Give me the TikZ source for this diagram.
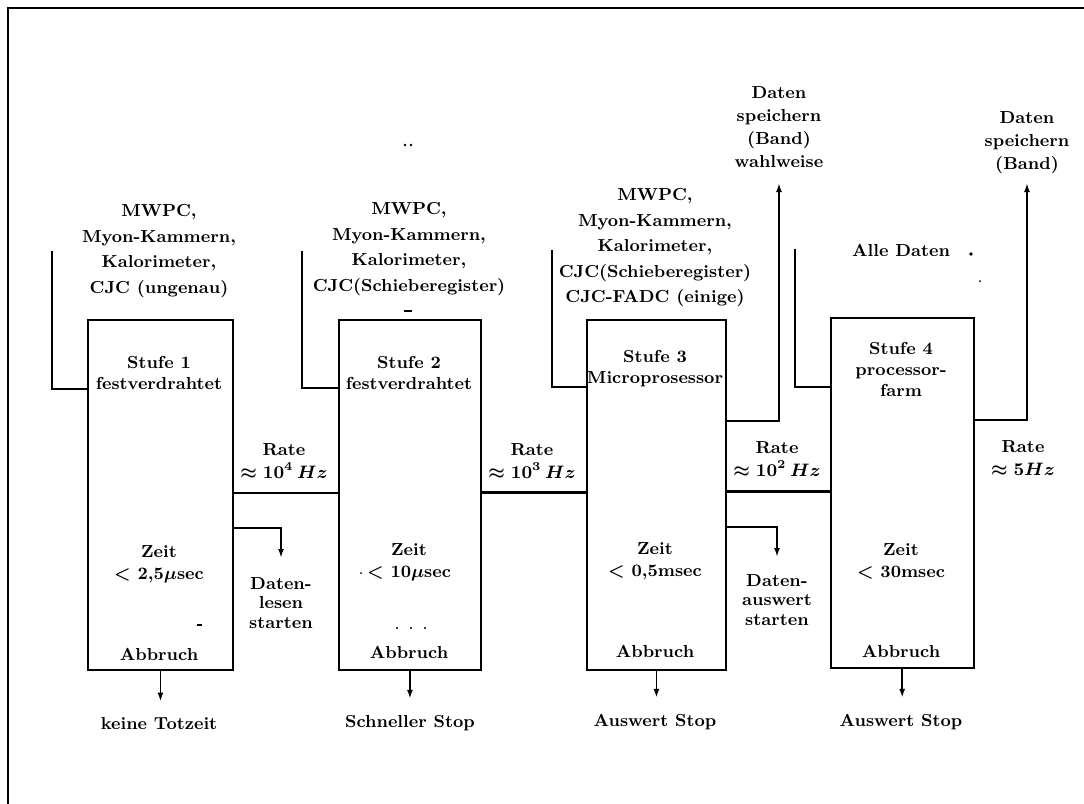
\documentclass[tikz,border=0pt]{standalone}
\usepackage{fontspec}
\usetikzlibrary{arrows.meta,calc}
\begin{document}
\begin{tikzpicture}[x=0.5pt,y=-0.5pt,
  frameline/.style={line width=1.1pt},
  stagebox/.style={draw, line width=1.2pt, anchor=north west, inner sep=0pt, minimum height=175pt},
  feed/.style={line width=1pt},
  conn/.style={line width=1.3pt},
  arr/.style={line width=0.9pt, -{Latex[length=4.5pt,width=3pt]}},
  outarr/.style={line width=1.3pt, -{Latex[length=4.5pt,width=3pt]}},
  txt/.style={align=center, inner sep=0pt, font=\fontsize{8.7}{11}\selectfont\bfseries\boldmath},
  toplbl/.style={txt, font=\fontsize{8.7}{12.75}\selectfont\bfseries\boldmath},
  steplbl/.style={txt, font=\fontsize{8.7}{10.5}\selectfont\bfseries\boldmath},
  ratelbl/.style={txt, font=\fontsize{8.7}{11.5}\selectfont\bfseries\boldmath},
  startlbl/.style={txt, font=\fontsize{8.7}{9.75}\selectfont\bfseries\boldmath},
  savelbl/.style={txt, font=\fontsize{8.7}{11.5}\selectfont\bfseries\boldmath},
  speck/.style={fill=black}
]
\useasboundingbox (0,0) rectangle (1084,804);

% outer frame (top and left only visible)
\coordinate (fTR) at (1084,8);
\coordinate (fTL) at (8,8);
\coordinate (fBL) at (8,804);
\draw[frameline] (fTR) -- (fTL) -- (fBL);

% stage boxes
\node[stagebox, minimum width=72.75pt] (s1) at (86.5,319) {};
\node[stagebox, minimum width=71.25pt] (s2) at (337.5,319) {};
\node[stagebox, minimum width=69.75pt] (s3) at (585.5,319) {};
\node[stagebox, minimum width=71.5pt]  (s4) at (829.5,317) {};

% texts inside boxes
\node[steplbl] (h1) at (159,373) {Stufe 1\\festverdrahtet};
\node[steplbl] (h2) at (409,373) {Stufe 2\\festverdrahtet};
\node[steplbl] (h3) at (655,369) {Stufe 3\\Microprosessor};
\node[steplbl] (h4) at (901,369) {Stufe 4\\processor-\\farm};

\node[txt] (z1) at (159,564) {Zeit\\$<$ 2,5$\mu$sec};
\node[txt] (z2) at (409,562) {Zeit\\$<$ 10$\mu$sec};
\node[txt] (z3) at (655,561) {Zeit\\$<$ 0,5msec};
\node[txt] (z4) at (901,561) {Zeit\\$<$ 30msec};

\node[txt] (a1) at (159,654) {Abbruch};
\node[txt] (a2) at (409,652) {Abbruch};
\node[txt] (a3) at (655,651) {Abbruch};
\node[txt] (a4) at (901,651) {Abbruch};

% top input labels
\node[toplbl] (in1t) at (159,251) {MWPC,\\Myon-Kammern,\\Kalorimeter,\\CJC (ungenau)};
\node[toplbl] (in2t) at (409,249) {MWPC,\\Myon-Kammern,\\Kalorimeter,\\CJC(Schieberegister)};
\node[toplbl] (in3t) at (655,248) {MWPC,\\Myon-Kammern,\\Kalorimeter,\\CJC(Schieberegister)\\CJC-FADC (einige)};
\node[txt] (in4t) at (901,250) {Alle Daten};

% input feed lines
\coordinate (in1) at (52,251);
\coordinate (in2) at (302,251);
\coordinate (in3) at (551.5,250);
\coordinate (in4) at (795,249);
\coordinate (y1) at (0,389);
\coordinate (y2) at (0,388);
\coordinate (y3) at (0,387);
\coordinate (y4) at (0,387);
\draw[feed] (in1) |- (s1.west |- y1);
\draw[feed] (in2) |- (s2.west |- y2);
\draw[feed] (in3) |- (s3.west |- y3);
\draw[feed] (in4) |- (s4.west |- y4);

% rate connections
\coordinate (r12) at (0,493);
\coordinate (r23) at (0,492.5);
\coordinate (r34) at (0,491.5);
\draw[conn] (s1.east |- r12) -- (s2.west |- r12);
\draw[conn] (s2.east |- r23) -- (s3.west |- r23);
\draw[conn] (s3.east |- r34) -- (s4.west |- r34);

\node[ratelbl] (rt1) at (284,461) {Rate\\$\approx 10^{4}\,Hz$};
\node[ratelbl] (rt2) at (532,461) {Rate\\$\approx 10^{3}\,Hz$};
\node[ratelbl] (rt3) at (777,459) {Rate\\$\approx 10^{2}\,Hz$};
\node[ratelbl] (rt4) at (1023,458) {Rate\\$\approx 5Hz$};

% data start branches
\node[startlbl, anchor=north] (ds1) at (281,577) {Daten-\\lesen\\starten};
\node[startlbl, anchor=north] (ds3) at (777,574) {Daten-\\auswert\\starten};
\coordinate (b1) at (0,528);
\coordinate (b3) at (0,527);
\draw[conn, -{Latex[length=4.5pt,width=3pt]}, shorten >=9.5pt] (s1.east |- b1) -| (ds1.north);
\draw[conn, -{Latex[length=4.5pt,width=3pt]}, shorten >=8.5pt] (s3.east |- b3) -| (ds3.north);

% save outputs
\node[savelbl, anchor=south] (sv3) at (779,168) {Daten\\speichern\\(Band)\\wahlweise};
\node[savelbl, anchor=south] (sv4) at (1027,174) {Daten\\speichern\\(Band)};
\coordinate (o3) at (0,421);
\coordinate (o4) at (0,420);
\draw[outarr, shorten >=7.5pt] (s3.east |- o3) -| (sv3.south);
\draw[outarr, shorten >=4.5pt] (s4.east |- o4) -| (sv4.south);

% bottom outcomes
\node[txt] (k1) at (159,724) {keine Totzeit};
\node[txt] (k2) at (410,723) {Schneller Stop};
\node[txt] (k3) at (655,722) {Auswert Stop};
\node[txt] (k4) at (901,722) {Auswert Stop};
\draw[arr, shorten >=8pt] (s1.south) -- (s1.south |- k1.north);
\draw[arr, shorten >=8pt] (s2.south) -- (s2.south |- k2.north);
\draw[arr, shorten >=8pt] (s3.south) -- (s3.south |- k3.north);
\draw[arr, shorten >=8pt] (s4.south) -- (s4.south |- k4.north);

% small specks of the original
\fill[speck] (405,145) circle (0.7pt);
\fill[speck] (411,145) circle (0.7pt);
\fill[speck] (971,254) circle (0.9pt);
\fill[speck] (980,281) circle (0.5pt);
\draw[line width=0.9pt] (404,311) -- (412,311);
\draw[line width=0.8pt] (197,625) -- (202,625);
\fill[speck] (397,628) circle (0.6pt);
\fill[speck] (411,628) circle (0.6pt);
\fill[speck] (425,628) circle (0.6pt);
\fill[speck] (361,573) circle (0.5pt);
\end{tikzpicture}
\end{document}
